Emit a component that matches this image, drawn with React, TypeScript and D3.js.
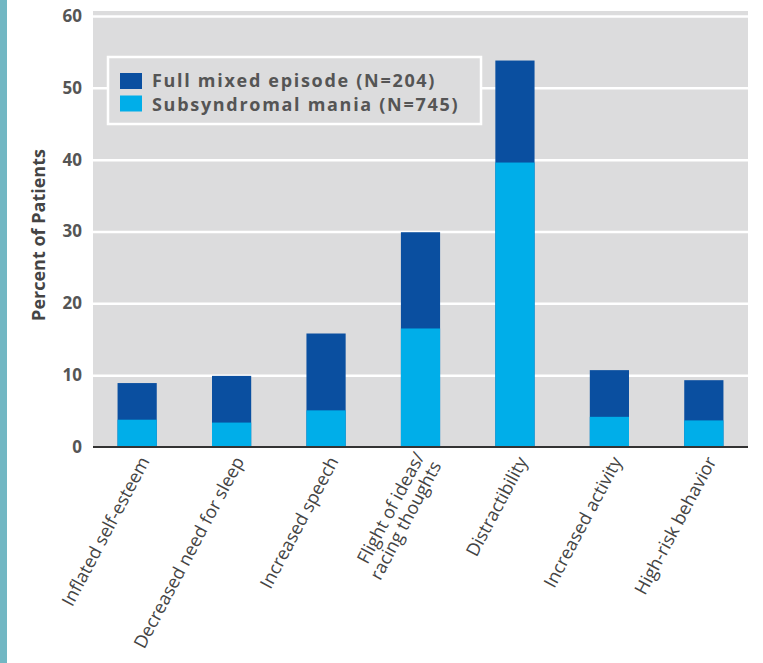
import { useEffect, useRef } from "react";
import * as d3 from "d3";

// symptoms along the x axis ("\n" splits a label into lines)
const categories = [
  "Inflated self-esteem",
  "Decreased need for sleep",
  "Increased speech",
  "Flight of ideas/\nracing thoughts",
  "Distractibility",
  "Increased activity",
  "High-risk behavior",
];

// percent of patients
const fullMixed = [8.9, 9.9, 15.8, 29.9, 53.8, 10.7, 9.3];
const subsyndromal = [3.8, 3.4, 5.1, 16.5, 39.6, 4.2, 3.7];

const seriesNames = ["Full mixed episode (N=204)", "Subsyndromal mania (N=745)"];
const seriesColors = ["#0a4fa0", "#00aee9"];
const yTicks = [0, 10, 20, 30, 40, 50, 60];

const W = 763;
const H = 663;

function App() {
  const ref = useRef<SVGSVGElement>(null);

  useEffect(() => {
    const svg = d3.select(ref.current);
    svg.selectAll("*").remove();

    const left = 93, right = 748, top = 16, bottom = 447;

    const x = d3.scaleBand<string>()
      .domain(categories)
      .range([left, right])
      .paddingInner(0.585)
      .paddingOuter(0.26);
    const y = d3.scaleLinear().domain([0, 60]).range([bottom, top]);

    // teal strip at the left edge
    svg.append("rect").attr("x", 0).attr("y", 0).attr("width", 7).attr("height", H).attr("fill", "#72b7c3");

    // plot background
    svg.append("rect")
      .attr("x", left).attr("y", top - 5)
      .attr("width", right - left).attr("height", bottom - top + 5)
      .attr("fill", "#dcdcdd");

    // white gridlines
    const grid = svg.append("g")
      .attr("transform", `translate(${left},0)`)
      .call(d3.axisLeft(y).tickValues(yTicks.slice(1)).tickSize(-(right - left)).tickFormat(() => ""));
    grid.select(".domain").remove();
    grid.selectAll(".tick line").attr("stroke", "#ffffff").attr("stroke-width", 2.5);

    // y tick labels
    const yAxis = svg.append("g")
      .attr("transform", `translate(${left},0)`)
      .call(d3.axisLeft(y).tickValues(yTicks).tickSize(0).tickPadding(11));
    yAxis.select(".domain").remove();
    yAxis.selectAll("text")
      .attr("font-family", "'Open Sans', sans-serif")
      .attr("font-size", 17)
      .attr("font-weight", 700)
      .attr("fill", "#555");

    // y title
    svg.append("text")
      .attr("transform", `translate(45,235) rotate(-90)`)
      .attr("text-anchor", "middle")
      .attr("font-family", "'Open Sans', sans-serif")
      .attr("font-size", 18)
      .attr("font-weight", 700)
      .attr("fill", "#444")
      .text("Percent of Patients");

    // legend box
    svg.append("rect")
      .attr("x", 108).attr("y", 57).attr("width", 373).attr("height", 67)
      .attr("fill", "#dcdcdd").attr("stroke", "#ffffff").attr("stroke-width", 2.5);
    seriesNames.forEach((name, i) => {
      svg.append("rect")
        .attr("x", 120).attr("y", 73 + i * 22.5)
        .attr("width", 22).attr("height", 16)
        .attr("fill", seriesColors[i]);
      svg.append("text")
        .attr("x", 152).attr("y", 87 + i * 23.5)
        .attr("font-family", "'Open Sans', sans-serif")
        .attr("font-size", 18)
        .attr("font-weight", 700)
        .attr("letter-spacing", 1.7)
        .attr("fill", "#555")
        .text(name);
    });

    // bars: full mixed behind, subsyndromal in front
    [fullMixed, subsyndromal].forEach((vals, s) => {
      svg.append("g").selectAll("rect")
        .data(vals)
        .join("rect")
        .attr("x", (_, i) => x(categories[i])!)
        .attr("width", x.bandwidth())
        .attr("y", (d) => y(d))
        .attr("height", (d) => y(0) - y(d))
        .attr("fill", seriesColors[s]);
    });

    // baseline
    svg.append("line")
      .attr("x1", left).attr("x2", right)
      .attr("y1", bottom).attr("y2", bottom)
      .attr("stroke", "#333").attr("stroke-width", 2);

    // rotated category labels
    categories.forEach((c) => {
      const cx = x(c)! + x.bandwidth() / 2;
      const lines = c.split("\n");
      const t = svg.append("text")
        .attr("transform", `translate(${cx + 13},461) rotate(-62)`)
        .attr("text-anchor", "end")
        .attr("font-family", "'Open Sans', sans-serif")
        .attr("font-size", 18)
        .attr("fill", "#444");
      lines.forEach((ln, k) => {
        const off = (k - (lines.length - 1) / 2) * 1.05;
        t.append("tspan").attr("x", 0).attr("dy", k === 0 ? `${off}em` : "1.05em").text(ln);
      });
    });
  }, []);

  return (
    <svg
      ref={ref}
      width={W}
      height={H}
      style={{ position: "absolute", left: 0, top: 0, background: "#fff" }}
    />
  );
}

export default App;
